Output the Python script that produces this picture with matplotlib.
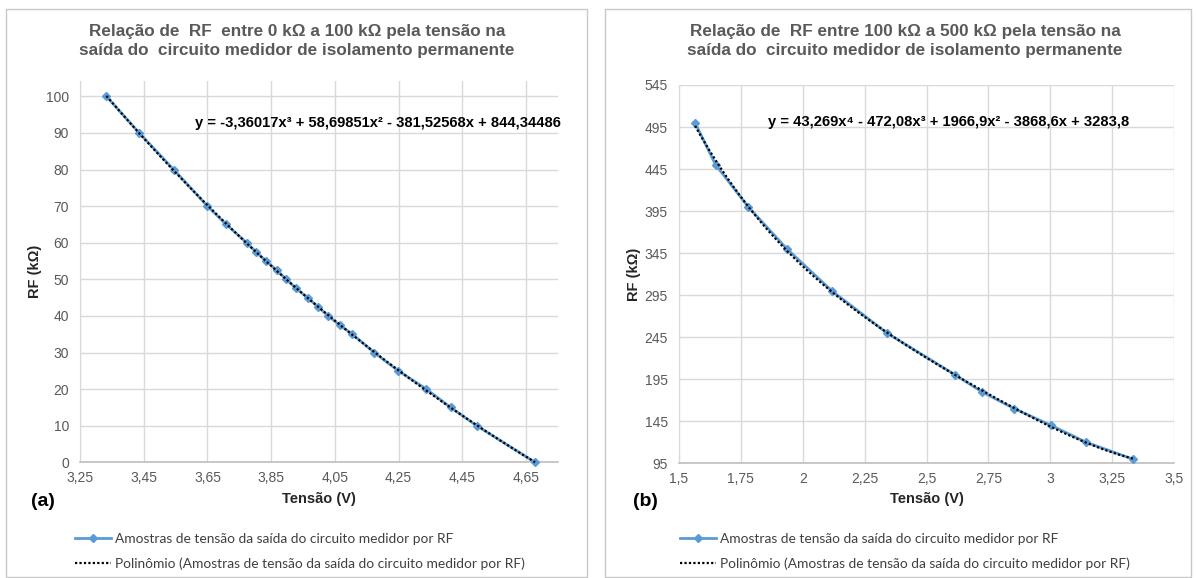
import numpy as np
import matplotlib
matplotlib.use("Agg")
import matplotlib.pyplot as plt
from matplotlib.patches import Rectangle

# ---------------- data ----------------
left_v = [3.333, 3.436, 3.544, 3.650, 3.709, 3.773, 3.802, 3.834, 3.867, 3.898, 3.928,
          3.964, 3.997, 4.029, 4.065, 4.105, 4.173, 4.249, 4.337, 4.413, 4.495, 4.678]
left_rf = [100, 90, 80, 70, 65, 60, 57.5, 55, 52.5, 50, 47.5,
           45, 42.5, 40, 37.5, 35, 30, 25, 20, 15, 10, 0]

right_v = [1.565, 1.648, 1.780, 1.936, 2.118, 2.340, 2.617, 2.724, 2.855, 3.004, 3.145, 3.334]
right_rf = [500, 450, 400, 350, 300, 250, 200, 180, 160, 140, 120, 100]

left_xticks = [3.25, 3.45, 3.65, 3.85, 4.05, 4.25, 4.45, 4.65]
left_yticks = [0, 10, 20, 30, 40, 50, 60, 70, 80, 90, 100]
right_xticks = [1.5, 1.75, 2.0, 2.25, 2.5, 2.75, 3.0, 3.25, 3.5]
right_yticks = [95, 145, 195, 245, 295, 345, 395, 445, 495, 545]

title_left = "Relação de  RF  entre 0 kΩ a 100 kΩ pela tensão na\nsaída do  circuito medidor de isolamento permanente"
title_right = "Relação de  RF entre 100 kΩ a 500 kΩ pela tensão na\nsaída do  circuito medidor de isolamento permanente"
eq_left = "y = -3,36017x³ + 58,69851x² - 381,52568x + 844,34486"
eq_right = "y = 43,269x⁴ - 472,08x³ + 1966,9x² - 3868,6x + 3283,8"
leg_series = "Amostras de tensão da saída do circuito medidor por RF"
leg_trend = "Polinômio (Amostras de tensão da saída do circuito medidor por RF)"

# ---------------- style ----------------
W, H = 1196, 578
DPI = 100
BLUE = "#5B9BD5"
GRID = "#D9D9D9"
AXC = "#BFBFBF"
TICKC = "#595959"
TITLEC = "#595959"
plt.rcParams['font.family'] = ['Liberation Sans', 'DejaVu Sans']

fig = plt.figure(figsize=(W / DPI, H / DPI), dpi=DPI)
fig.patch.set_facecolor("white")


def fx(px):
    return px / W


def fy(py):
    return 1 - py / H


# panel borders
for (x0, y0, x1, y1) in [(6, 9, 587, 577), (605, 9, 1191, 577)]:
    fig.patches.append(Rectangle((fx(x0), fy(y1)), fx(x1) - fx(x0), fy(y0) - fy(y1),
                                 transform=fig.transFigure, fill=False,
                                 edgecolor="#C8C8C8", linewidth=1.0))


def comma(v):
    return ("%g" % v).replace(".", ",")


def make_panel(rect, xs, ys, deg, xlim, ylim, xticks, yticks, title, tx, eq, eqx, eqy,
               tag, tagx, legx, ylab_x):
    l, t, r, b = rect
    ax = fig.add_axes([fx(l), fy(b), fx(r) - fx(l), fy(t) - fy(b)])
    ax.set_xlim(*xlim)
    ax.set_ylim(*ylim)
    ax.set_xticks(xticks)
    ax.set_xticklabels([comma(v) for v in xticks])
    ax.set_yticks(yticks)
    ax.set_yticklabels([comma(v) for v in yticks])
    ax.grid(True, color=GRID, linewidth=1.0)
    ax.set_axisbelow(True)
    for s in ["top", "right"]:
        ax.spines[s].set_visible(False)
    ax.spines["left"].set_color(GRID)
    ax.spines["bottom"].set_color(AXC)
    ax.spines["bottom"].set_linewidth(1.2)
    ax.tick_params(length=0, colors=TICKC, labelsize=10)
    ax.tick_params(axis="y", pad=8)
    ax.tick_params(axis="x", pad=6)

    l1, = ax.plot(xs, ys, color=BLUE, linewidth=2.0, marker="D", markersize=4,
                  markerfacecolor=BLUE, markeredgecolor=BLUE, clip_on=False, zorder=3)
    coef = np.polyfit(xs, ys, deg)
    xx = np.linspace(min(xs), max(xs), 200)
    l2, = ax.plot(xx, np.polyval(coef, xx), color="black", linewidth=1.6,
                  linestyle=(0, (1, 1)), zorder=4, clip_on=False)

    ax.set_xlabel("Tensão (V)", fontsize=10.5, fontweight="bold", color="#262626")
    ax.set_ylabel("RF (kΩ)", fontsize=10.5, fontweight="bold", color="#262626")
    ax.xaxis.set_label_coords(0.5, (b - 492) / (b - t))
    ax.yaxis.set_label_coords((ylab_x - l) / (r - l), 0.5)

    fig.text(fx(tx), fy(41), title, ha="center", va="center", fontsize=12.3,
             fontweight="bold", color=TITLEC, linespacing=1.3)
    fig.text(fx(eqx), fy(eqy), eq, ha="left", va="center", fontsize=10.6,
             fontweight="bold", color="black")
    fig.text(fx(tagx), fy(502), tag, ha="center", va="center", fontsize=14,
             fontweight="bold", color="black")
    leg = fig.legend([l1, l2], [leg_series, leg_trend], loc="center left",
                     bbox_to_anchor=(fx(legx), fy(551.5)), frameon=False,
                     prop={"family": ["Lato", "DejaVu Sans"], "size": 9.9},
                     handlelength=2.6, handletextpad=0.3, labelspacing=0.95,
                     borderpad=0, borderaxespad=0)
    for txt in leg.get_texts():
        txt.set_color("#404040")
    return ax


make_panel((80, 81, 558, 462.3), left_v, left_rf, 3, (3.25, 4.75), (0, 104.2),
           left_xticks, left_yticks, title_left, 297, eq_left, 195, 123,
           "(a)", 43, 75, 42)
make_panel((679, 85, 1174, 463.3), right_v, right_rf, 4, (1.5, 3.5), (95, 545),
           right_xticks, right_yticks, title_right, 905, eq_right, 768, 122,
           "(b)", 645, 680, 641)

fig.savefig("out.png", dpi=DPI, facecolor="white")
